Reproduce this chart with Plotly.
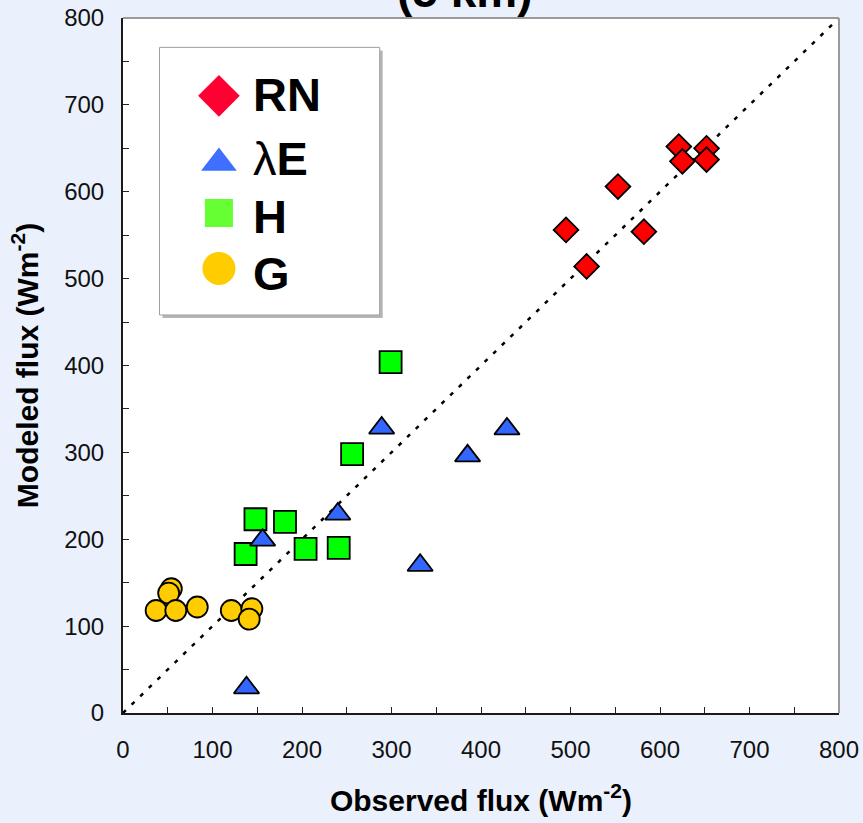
import plotly.graph_objects as go

# Flux series: observed (x) vs modeled (y), W m-2
series_names = ["RN", "λE", "H", "G"]

rn_obs = [621, 652, 625, 652, 553, 495, 582, 518]
rn_mod = [652, 650, 635, 637, 606, 556, 554, 514]

le_obs = [289, 429, 385, 240, 156, 332, 138]
le_mod = [328, 327, 296, 229, 199, 170, 29]

h_obs = [299, 256, 148, 181, 137, 204, 241]
h_mod = [404, 298, 223, 220, 183, 189, 190]

g_obs = [54, 51, 37, 59, 83, 121, 144, 141]
g_mod = [143, 138, 118, 118, 122, 118, 120, 108]

one_to_one = [0, 800]
tick_vals = [0, 100, 200, 300, 400, 500, 600, 700, 800]
tick_text = [str(v) for v in tick_vals]

FONT = "Liberation Sans"
BG = "#EAF0FC"

symbols = {"RN": "diamond", "λE": "triangle-up", "H": "square", "G": "circle"}
fill = {"RN": "#FF0000", "λE": "#3366FF", "H": "#00FF00", "G": "#FFCC00"}
key_fill = {"RN": "#FF0033", "λE": "#3F6FFF", "H": "#66FF33", "G": "#FFCC00"}
sizes = {"RN": 19, "λE": 22, "H": 22, "G": 21}
key_sizes = {"RN": 32, "λE": 31, "H": 28, "G": 33}
key_labels = {"RN": "<b>RN</b>", "λE": "λ<b>E</b>", "H": "<b>H</b>", "G": "<b>G</b>"}

data = {
    "RN": (rn_obs, rn_mod),
    "λE": (le_obs, le_mod),
    "H": (h_obs, h_mod),
    "G": (g_obs, g_mod),
}

fig = go.Figure()

# 1:1 reference line
fig.add_trace(go.Scatter(
    x=one_to_one, y=one_to_one, mode="lines",
    line=dict(color="black", width=2.5, dash="4px,8px"),
    showlegend=False, hoverinfo="skip",
))

for name in ["H", "G", "λE", "RN"]:
    xs, ys = data[name]
    fig.add_trace(go.Scatter(
        x=xs, y=ys, mode="markers", name=name, showlegend=False,
        marker=dict(symbol=symbols[name], size=sizes[name], color=fill[name],
                    line=dict(color="black", width=1.8)),
        cliponaxis=False,
    ))

# Key: glyphs on an overlay axis spanning the plot area in 0..1 units
key_x = 0.134
key_glyph_y = {"RN": 0.888, "λE": 0.7914, "H": 0.7194, "G": 0.6397}
key_text_y = {"RN": 0.8906, "λE": 0.7972, "H": 0.7143, "G": 0.6317}
for name in series_names:
    fig.add_trace(go.Scatter(
        x=[key_x], y=[key_glyph_y[name]], xaxis="x2", yaxis="y2",
        mode="markers", showlegend=False, hoverinfo="skip", cliponaxis=False,
        marker=dict(symbol=symbols[name], size=key_sizes[name],
                    color=key_fill[name], line=dict(width=0)),
    ))

annotations = []
for name in series_names:
    annotations.append(dict(
        x=0.179, y=key_text_y[name], xref="paper", yref="paper",
        xanchor="left", yanchor="middle", showarrow=False,
        text=key_labels[name], font=dict(family=FONT, size=47, color="black"),
    ))

# Partially visible heading at the top edge
annotations.append(dict(
    x=0.477, y=1.039, xref="paper", yref="paper", xanchor="center",
    yanchor="middle", showarrow=False, text="<b>(5 km)</b>",
    font=dict(family=FONT, size=46, color="black"),
))

shapes = [
    # key box shadow and box
    dict(type="rect", xref="paper", yref="paper", x0=0.0552, x1=0.3627,
         y0=0.5684, y1=0.9534, fillcolor="#B5B5B5", line=dict(width=0), layer="below"),
    dict(type="rect", xref="paper", yref="paper", x0=0.051, x1=0.3585,
         y0=0.5727, y1=0.9577, fillcolor="white",
         line=dict(color="#A0A0A0", width=1), layer="below"),
    # top and right frame
    dict(type="line", xref="paper", yref="paper", x0=0, x1=1, y0=1, y1=1,
         line=dict(color="#9A9A9A", width=2), layer="above"),
    dict(type="line", xref="paper", yref="paper", x0=1, x1=1, y0=0, y1=1,
         line=dict(color="#9A9A9A", width=2), layer="above"),
]

axis_common = dict(
    range=[0, 800], tickvals=tick_vals, ticktext=tick_text,
    ticks="inside", ticklen=6, tickwidth=1, tickcolor="#222222",
    minor=dict(dtick=50, tick0=0, ticks="inside", ticklen=6, tickwidth=1,
               tickcolor="#222222"),
    showgrid=False, zeroline=False, showline=True, linecolor="#1A1A1A",
    linewidth=2, mirror=False, automargin=False,
    tickfont=dict(family=FONT, size=24, color="#111111"),
)

fig.update_layout(
    template="none",
    width=863, height=823,
    margin=dict(l=123, r=24, t=18, b=110, pad=0),
    paper_bgcolor=BG, plot_bgcolor="white",
    showlegend=False,
    xaxis=dict(**axis_common, ticklabelstandoff=14,
               title=dict(text="<b>Observed flux (Wm<sup>-2</sup>)</b>",
                          font=dict(family=FONT, size=30, color="black"),
                          standoff=28)),
    yaxis=dict(**axis_common, ticklabelstandoff=12,
               title=dict(text="<b>Modeled flux (Wm<sup>-2</sup>)</b>",
                          font=dict(family=FONT, size=30, color="black"),
                          standoff=17)),
    xaxis2=dict(overlaying="x", range=[0, 1], visible=False, automargin=False),
    yaxis2=dict(overlaying="y", range=[0, 1], visible=False, automargin=False),
    annotations=annotations,
    shapes=shapes,
)

fig.write_html("out.html")
